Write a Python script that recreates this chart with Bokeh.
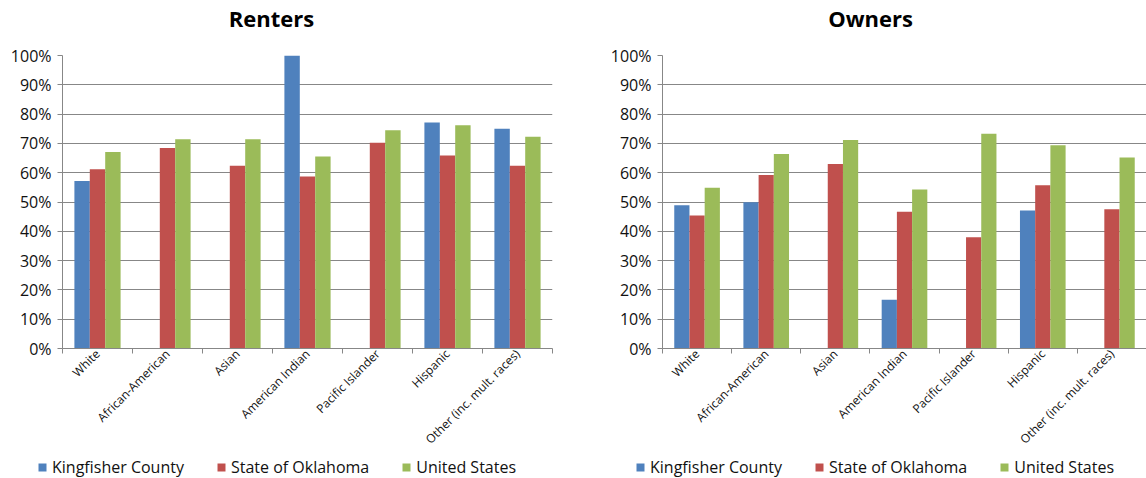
import math

from bokeh.core.properties import value
from bokeh.embed import file_html
from bokeh.layouts import column, row
from bokeh.models import (ColumnDataSource, FixedTicker, Legend, LegendItem,
                          NumeralTickFormatter, Range1d)
from bokeh.plotting import figure
from bokeh.resources import INLINE
from bokeh.transform import dodge

NAN = float("nan")

categories = ["White", "African-American", "Asian", "American Indian",
              "Pacific Islander", "Hispanic", "Other (inc. mult. races)"]
series_names = ["Kingfisher County", "State of Oklahoma", "United States"]
series_colors = ["#4F81BD", "#C0504D", "#9BBB59"]

# share of households by race/ethnicity (fractions, NaN = no data)
renters_county = [0.572, NAN, NAN, 1.000, NAN, 0.771, 0.750]
renters_state = [0.612, 0.684, 0.624, 0.587, 0.702, 0.659, 0.624]
renters_us = [0.671, 0.714, 0.714, 0.655, 0.745, 0.762, 0.723]

owners_county = [0.489, 0.499, NAN, 0.166, NAN, 0.471, NAN]
owners_state = [0.454, 0.592, 0.630, 0.467, 0.380, 0.557, 0.475]
owners_us = [0.549, 0.664, 0.712, 0.543, 0.733, 0.694, 0.652]

y_ticks = [0.0, 0.1, 0.2, 0.3, 0.4, 0.5, 0.6, 0.7, 0.8, 0.9, 1.0]

GRID = "#878787"
FONT = "Open Sans"
PANEL_W = 573
TITLE_H = 36
LEGEND_H = 22
CHART_H = 478 - TITLE_H - LEGEND_H
FRAME_TOP = 55
FRAME_BOTTOM = 348


def strip_figure(height):
    """A bare figure whose frame fills it, used for the heading and the key."""
    f = figure(width=PANEL_W, height=height, output_backend="svg",
               toolbar_location=None, x_axis_location=None, y_axis_location=None,
               x_range=Range1d(0, PANEL_W), y_range=Range1d(0, height),
               min_border=0)
    f.frame_align = False
    f.outline_line_color = None
    f.grid.visible = False
    return f


def make_title(text, center_x):
    t = strip_figure(TITLE_H)
    t.text(x=[center_x], y=[TITLE_H - 17], text=[text],
           text_font=value(FONT), text_font_size="22px", text_font_style="bold",
           text_color="#000000", text_align="center", text_baseline="alphabetic")
    return t


def make_chart(values, border_left, border_right):
    n = len(categories)
    centers = list(range(n))
    bounds = [i - 0.5 for i in range(n + 1)]

    p = figure(width=PANEL_W, height=CHART_H, output_backend="svg",
               toolbar_location=None,
               x_range=Range1d(-0.5, n - 0.5), y_range=Range1d(0, 1),
               min_border_left=border_left, min_border_right=border_right,
               min_border_top=FRAME_TOP - TITLE_H,
               min_border_bottom=CHART_H - (FRAME_BOTTOM - TITLE_H))
    p.outline_line_color = None
    p.background_fill_color = "white"
    p.border_fill_color = "white"

    data = {"x": centers}
    for i, v in enumerate(values):
        data[f"s{i}"] = v
    src = ColumnDataSource(data)

    bw = 0.22
    for i, color in enumerate(series_colors):
        p.vbar(x=dodge("x", (i - 1) * bw, range=p.x_range), top=f"s{i}",
               width=bw, source=src, fill_color=color, line_color=None)

    # y axis
    p.yaxis.ticker = FixedTicker(ticks=y_ticks)
    p.yaxis.formatter = NumeralTickFormatter(format="0%")
    p.yaxis.axis_line_color = GRID
    p.yaxis.major_tick_line_color = GRID
    p.yaxis.major_tick_in = 0
    p.yaxis.major_tick_out = 5
    p.yaxis.minor_tick_line_color = None
    p.yaxis.major_label_text_font = FONT
    p.yaxis.major_label_text_font_size = "16px"
    p.yaxis.major_label_text_color = "#111111"
    p.yaxis.major_label_standoff = 6

    p.ygrid.grid_line_color = GRID
    p.xgrid.grid_line_color = None

    # x axis: labels at category centres, short marks at category edges
    # (the edge marks hang 5px below the axis line)
    p.xaxis.ticker = FixedTicker(ticks=centers, minor_ticks=bounds)
    p.xaxis.major_label_overrides = {c: lab for c, lab in zip(centers, categories)}
    p.xaxis.major_label_orientation = math.pi / 4
    p.xaxis.major_label_text_font = FONT
    p.xaxis.major_label_text_font_size = "12px"
    p.xaxis.major_label_text_color = "#111111"
    p.xaxis.major_label_standoff = 3
    p.xaxis.axis_line_color = GRID
    p.xaxis.major_tick_line_color = None
    p.xaxis.major_tick_in = 0
    p.xaxis.major_tick_out = 0
    p.xaxis.minor_tick_line_color = GRID
    p.xaxis.minor_tick_in = -5
    p.xaxis.minor_tick_out = 0
    return p


def make_legend(left_px):
    lp = strip_figure(LEGEND_H)
    items = []
    for name, color in zip(series_names, series_colors):
        r = lp.vbar(x=[NAN], top=[NAN], width=1, fill_color=color, line_color=None)
        items.append(LegendItem(label=name, renderers=[r]))
    legend = Legend(items=items, orientation="horizontal", location=(left_px, 0),
                    margin=0, padding=0, spacing=32,
                    glyph_width=10, glyph_height=10, label_standoff=5,
                    label_height=LEGEND_H,
                    label_text_font=FONT, label_text_font_size="16px",
                    label_text_color="#111111",
                    border_line_color=None, background_fill_alpha=0)
    lp.add_layout(legend)
    return lp


left = column(make_title("Renters", 271),
              make_chart([renters_county, renters_state, renters_us], 62, 21),
              make_legend(37), spacing=0)
right = column(make_title("Owners", 297),
               make_chart([owners_county, owners_state, owners_us], 89, 0),
               make_legend(62), spacing=0)

layout = row(left, right, spacing=0)
open("out.html", "w").write(file_html(layout, INLINE))
